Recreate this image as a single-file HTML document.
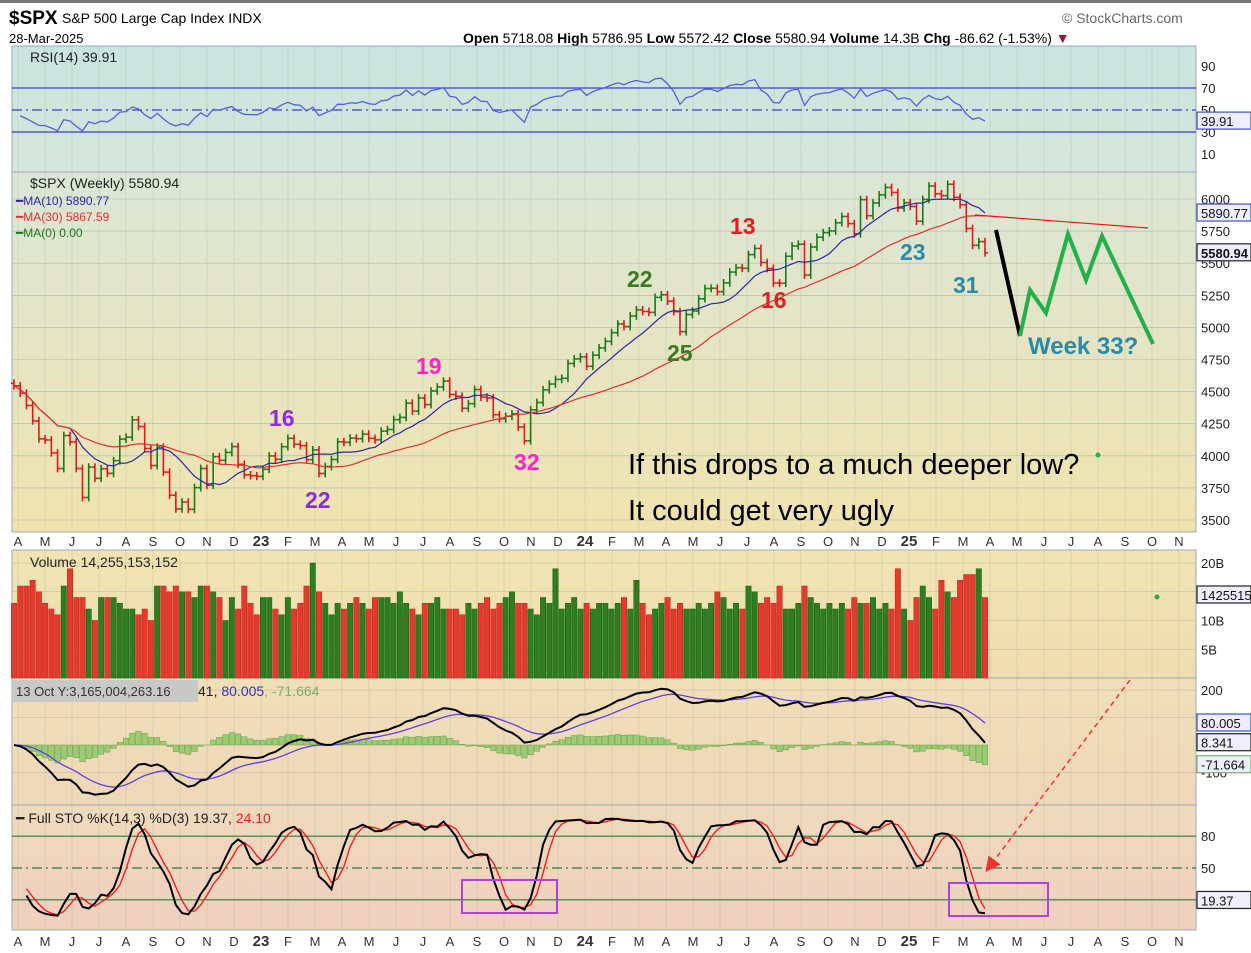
<!DOCTYPE html>
<html><head><meta charset="utf-8">
<style>
body{margin:0;background:#fff;font-family:"Liberation Sans",sans-serif;}
svg text{font-family:"Liberation Sans",sans-serif;}
</style></head><body>
<svg id="c" width="1251" height="948" xmlns="http://www.w3.org/2000/svg">
<defs>
<linearGradient id="gR" x1="0" y1="0" x2="0" y2="1"><stop offset="0" stop-color="#c9e4df"/><stop offset="1" stop-color="#d6e6dc"/></linearGradient>
<linearGradient id="gP" x1="0" y1="0" x2="0" y2="1"><stop offset="0" stop-color="#dbe6d6"/><stop offset="1" stop-color="#f1e3ae"/></linearGradient>
<linearGradient id="gV" x1="0" y1="0" x2="0" y2="1"><stop offset="0" stop-color="#f1e4b2"/><stop offset="1" stop-color="#efdcb0"/></linearGradient>
<linearGradient id="gM" x1="0" y1="0" x2="0" y2="1"><stop offset="0" stop-color="#f0dfb8"/><stop offset="1" stop-color="#efd7b8"/></linearGradient>
<linearGradient id="gS" x1="0" y1="0" x2="0" y2="1"><stop offset="0" stop-color="#efdabb"/><stop offset="1" stop-color="#f0cfbf"/></linearGradient>
<marker id="arr" markerWidth="10" markerHeight="10" refX="5" refY="5" orient="auto"><path d="M0,0 L10,5 L0,10 z" fill="#f03030"/></marker>
</defs>
<rect x="0" y="0" width="1251" height="3" fill="#777"/>
<text x="9" y="24" font-size="19" font-weight="bold">$SPX</text>
<text x="62" y="23" font-size="14">S&amp;P 500 Large Cap Index  INDX</text>
<text x="9" y="43" font-size="13">28-Mar-2025</text>
<text x="463" y="43" font-size="14"><tspan font-weight="bold">Open</tspan> 5718.08 <tspan font-weight="bold">High</tspan> 5786.95 <tspan font-weight="bold">Low</tspan> 5572.42 <tspan font-weight="bold">Close</tspan> 5580.94 <tspan font-weight="bold">Volume</tspan> 14.3B <tspan font-weight="bold">Chg</tspan> -86.62 (-1.53%) <tspan fill="#a01030">▼</tspan></text>
<text x="1062" y="23" font-size="14" fill="#666">© StockCharts.com</text>

<rect x="12" y="46" width="1184" height="126" fill="url(#gR)" stroke="#9ab" />
<rect x="12" y="172" width="1184" height="360" fill="url(#gP)" stroke="#9ab"/>
<rect x="12" y="550" width="1184" height="128" fill="url(#gV)" stroke="#9ab"/>
<rect x="12" y="678" width="1184" height="127" fill="url(#gM)" stroke="#9ab"/>
<rect x="12" y="805" width="1184" height="125" fill="url(#gS)" stroke="#9ab"/>
<g id="grid"></g>
<g id="marks"></g>
<g id="axes"></g>

<g font-weight="bold" font-size="23">
<text x="269" y="426" fill="#8a2be2">16</text>
<text x="305" y="508" fill="#8a2be2">22</text>
<text x="416" y="374" fill="#ff20c8">19</text>
<text x="514" y="470" fill="#ff20c8">32</text>
<text x="627" y="287" fill="#3a7a20">22</text>
<text x="667" y="361" fill="#3a7a20">25</text>
<text x="730" y="234" fill="#e02020">13</text>
<text x="761" y="308" fill="#e02020">16</text>
<text x="900" y="260" fill="#2a8aaa">23</text>
<text x="953" y="293" fill="#2a8aaa">31</text>
<text x="1028" y="354" fill="#2a8aaa" font-size="24">Week 33?</text>
</g>
<line x1="975" y1="215" x2="1148" y2="228" stroke="#f01010" stroke-width="1.2"/>
<line x1="996" y1="230" x2="1020" y2="336" stroke="#000" stroke-width="4"/>
<polyline points="1020,336 1030,290 1046,313 1068,234 1086,280 1102,236 1153,344" fill="none" stroke="#22b04a" stroke-width="4"/>
<text x="628" y="474" font-size="29">If this drops to a much deeper low?</text>
<text x="628" y="520" font-size="29">It could get very ugly</text>
<circle cx="1098" cy="455" r="2.5" fill="#22b04a"/>
<circle cx="1157" cy="597" r="2.5" fill="#22b04a"/>
<line x1="1130" y1="680" x2="990" y2="866" stroke="#f03030" stroke-width="1.5" stroke-dasharray="5,4" marker-end="url(#arr)"/>
<rect x="462" y="880" width="95" height="33" fill="none" stroke="#b040e0" stroke-width="2"/>
<rect x="949" y="883" width="99" height="33" fill="none" stroke="#b040e0" stroke-width="2"/>
</svg>
<script>
const closes=[4545,4488,4392,4272,4132,4123,4023,3901,4158,4109,3901,3675,3912,3825,3899,3863,3962,4130,4145,4280,4228,4057,3924,4067,3873,3693,3586,3640,3583,3752,3901,3771,3993,3965,4026,4072,3934,3852,3845,3840,
3895,3999,3973,4071,4136,4090,4079,3970,4046,3862,3917,3971,4109,4105,4138,4133,4169,4136,4124,4192,4205,4282,4299,4410,4348,4450,4399,4505,4536,4582,4478,4464,4370,4406,4516,4457,4450,4320,4288,4308,4327,4224,4117,4358,4415,4514,4559,4595,4604,4719,4755,4770,
4697,4784,4840,4891,4959,5027,5006,5089,5137,5124,5117,5234,5254,5204,5123,4967,5100,5128,5223,5303,5305,5278,5347,5431,5465,5460,5567,5615,5505,5459,5346,5344,5554,5634,5648,5408,5626,5702,5738,5751,5815,5864,5808,5729,5995,5870,5969,6032,6090,6051,5930,5971,
5942,5827,5997,6101,6041,6026,6115,6013,5955,5770,5639,5668,5581];
const volumes=[14,11,13,16,16,17,15,13,12,11,16,19,14,14,12,10,14,14,14,13,12,12,11,12,10,16,16,15,16,15,15,14,16,16,15,14,10,14,12,16,
13,11,14,14,12,11,14,12,13,16,20,15,13,11,13,12,13,14,13,12,14,14,14,13,15,13,12,11,13,13,14,12,12,12,11,13,12,13,14,12,13,14,15,13,13,12,11,14,13,19,12,13,
14,12,13,12,13,13,12,13,14,12,17,13,11,12,13,14,12,13,12,12,13,12,13,15,14,12,13,12,16,15,13,14,13,16,12,12,13,16,14,13,12,13,12,13,12,14,13,13,14,12,13,12,19,12,
10,14,16,14,12,17,15,14,17,18,18,19,14];
const monthLabels=["A","M","J","J","A","S","O","N","D","23","F","M","A","M","J","J","A","S","O","N","D","24","F","M","A","M","J","J","A","S","O","N","D","25","F","M","A","M","J","J","A","S","O","N"];
const priceTicks=[3500,3750,4000,4250,4500,4750,5000,5250,5500,5750,6000];
const rsiTicks=[90,70,50,30,10];
const volTicks=[5,10,15,20];
const macdTicks=[200,100,-100];
const stoTicks=[80,50,20];

const NS="http://www.w3.org/2000/svg";
const n=closes.length;
const X=i=>14+i*(971/(n-1));
const MX=m=>18+m*27.0;
const yP=p=>199+(6000-p)*0.1284;
const yR=r=>165-r*1.1;
const yV=v=>678-v*5.75;
const yM=v=>745-v*0.275;
const yS=v=>921-v*1.06;
const bw=5.4;
function el(tag,attrs,parent){const e=document.createElementNS(NS,tag);for(const k in attrs)e.setAttribute(k,attrs[k]);parent.appendChild(e);return e;}
const grid=document.getElementById('grid'),marks=document.getElementById('marks'),axes=document.getElementById('axes');
const opens=closes.map((c,i)=>i?closes[i-1]:c+20);
const highs=closes.map((c,i)=>Math.max(c,opens[i])+30);
const lows=closes.map((c,i)=>Math.min(c,opens[i])-30);

monthLabels.forEach((m,k)=>{
  const x=MX(k);
  [[46,172],[172,532],[550,678],[678,805],[805,930]].forEach(([a,b])=>{
    const g=el('line',{x1:x,x2:x,y1:a,y2:b,stroke:'#a9b9a9','stroke-width':0.6,opacity:0.6},grid);
    
    
  });
  [546,946].forEach(yy=>{
    const t=el('text',{x:x,y:yy,'font-size':m.length>1?15:13,'font-weight':m.length>1?'bold':'normal','text-anchor':'middle',fill:'#333'},axes);
    t.textContent=m;
    
    
  });
});
function hline(y,color,dash,w,name){const l=el('line',{x1:12,x2:1196,y1:y,y2:y,stroke:color,'stroke-width':w||0.6},grid);if(dash)l.setAttribute('stroke-dasharray',dash);}
function tick(y,txt,name){const t=el('text',{x:1201,y:y+5,'font-size':13,fill:'#222'},axes);t.textContent=txt;}
priceTicks.forEach(p=>{hline(yP(p),'#a9b9a9',null,0.6,'price-gridline');tick(yP(p),p,'price-tick');});
rsiTicks.forEach(r=>{tick(yR(r),r,'rsi-tick');});
hline(yR(70),'#3c3cd0',null,1.3,'rsi-70-line');hline(yR(30),'#3c3cd0',null,1.3,'rsi-30-line');hline(yR(50),'#3c3cd0','10,4,2,4',1.3,'rsi-50-line');
volTicks.forEach(v=>{hline(yV(v),'#b9b9a0',null,0.6,'volume-gridline');tick(yV(v),v+'B','volume-tick');});
macdTicks.forEach(v=>{hline(yM(v),'#b9b0a0',null,0.6,'macd-gridline');tick(yM(v),v,'macd-tick');});
hline(yS(80),'#2a7a3a',null,1.2,'sto-80-line');hline(yS(20),'#2a7a3a',null,1.2,'sto-20-line');hline(yS(50),'#2a7a3a','10,4,2,4',1.2,'sto-50-line');
stoTicks.forEach(v=>tick(yS(v),v,'sto-tick'));

function sma(a,p){return a.map((_,i)=>{const s=Math.max(0,i-p+1);let t=0;for(let j=s;j<=i;j++)t+=a[j];return t/(i-s+1);});}
function ema(a,p){const k=2/(p+1);let e=a[0];return a.map(v=>e=v*k+e*(1-k));}
const ma10=sma(closes,10),ma30=sma(closes,30);
const rsi=[];let ag=0,al=0;
for(let i=0;i<n;i++){const d=i?closes[i]-closes[i-1]:0;const g=Math.max(d,0),l=Math.max(-d,0);
 if(i===0){ag=60;al=70;}else{ag=(ag*13+g)/14;al=(al*13+l)/14;}rsi.push(100-100/(1+ag/(al||1e-6)));}
const e12=ema(closes,12),e26=ema(closes,26);const macd=closes.map((_,i)=>e12[i]-e26[i]);const sig=ema(macd,9);const hist=macd.map((m,i)=>m-sig[i]);
const kraw=closes.map((c,i)=>{let hh=-1e9,ll=1e9;for(let j=Math.max(0,i-13);j<=i;j++){hh=Math.max(hh,highs[j]);ll=Math.min(ll,lows[j]);}return (c-ll)/(hh-ll)*100;});
const kF=sma(kraw,3),dF=sma(kF,3);

function poly(vals,yf,color,w,name,start){const pts=vals.map((v,i)=>i>=(start||0)?X(i).toFixed(1)+','+yf(v).toFixed(1):null).filter(Boolean).join(' ');const p=el('polyline',{points:pts,fill:'none',stroke:color,'stroke-width':w},marks);}
poly(rsi,yR,'#5060e0',1.3,'rsi-line',1);
closes.forEach((c,i)=>{const up=c>=opens[i];const col=up?'#1a7a1a':'#e01818';const x=X(i);
 const g=el('g',{stroke:col,'stroke-width':1.6},marks);
 
 
 el('line',{x1:x,x2:x,y1:yP(highs[i]),y2:yP(lows[i])},g);
 el('line',{x1:x-3,x2:x,y1:yP(opens[i]),y2:yP(opens[i])},g);
 el('line',{x1:x,x2:x+3,y1:yP(c),y2:yP(c)},g);
});
poly(ma10,yP,'#2a2aa0',1.2,'ma10-line');
poly(ma30,yP,'#e03030',1.2,'ma30-line');
// align volume array to the last n weeks
const vOff=Math.max(0,volumes.length-n);
for(let i=0;i<n;i++){const v=volumes[i+vOff];if(v===undefined)continue;const up=closes[i]>=opens[i];const r=el('rect',{x:X(i)-bw/2,y:yV(v),width:bw,height:678-yV(v),fill:up?'#2e7d20':'#e23b2b',stroke:up?'#1d5d12':'#c02020','stroke-width':0.5},marks);
 
 }
hist.forEach((h,i)=>{const y0=yM(0),y1=yM(h);const r=el('rect',{x:X(i)-bw/2,y:Math.min(y0,y1),width:bw,height:Math.abs(y1-y0),fill:'#9ccc70',stroke:'#6a9a50','stroke-width':0.5},marks);
 
 });
poly(sig,yM,'#6040e0',1.3,'macd-signal-line');
poly(macd,yM,'#000',2,'macd-line');
poly(dF,yS,'#f02020',1.4,'sto-d-line',2);
poly(kF,yS,'#000',2,'sto-k-line',2);

function label(x,y,txt,color,name,size){const t=el('text',{x:x,y:y,'font-size':size||13,fill:color},axes);t.textContent=txt;return t;}
label(30,62,'RSI(14) 39.91','#222','rsi-legend',14);
label(30,188,'$SPX (Weekly) 5580.94','#222','price-legend',14);
label(16,205,'━MA(10) 5890.77','#2a2aa0','ma10-legend',12);
label(16,221,'━MA(30) 5867.59','#e03030','ma30-legend',12);
label(16,237,'━MA(0) 0.00','#1a7a1a','ma0-legend',12);
label(30,567,'Volume 14,255,153,152','#222','volume-legend',14);
const tb=el('rect',{x:12,y:680,width:186,height:22,fill:'#c8c8c8'},axes);
label(16,696,'13 Oct Y:3,165,004,263.16','#333','tooltip-text',13);
const ml=label(198,696,'41, ','#222','macd-legend',14);
const t2=el('tspan',{fill:'#4030c0'},ml);t2.textContent='80.005';
const t3=el('tspan',{fill:'#7ab070'},ml);t3.textContent=', -71.664';
const sl=label(16,823,'━ Full STO %K(14,3) %D(3) 19.37, ','#222','sto-legend',14);
const t4=el('tspan',{fill:'#f02020'},sl);t4.textContent='24.10';
function badge(y,txt,name,bold,stroke){const r=el('rect',{x:1197,y:y-9,width:54,height:17,fill:'#eef',stroke:stroke||'#4050c0','stroke-width':1.2},axes);
 const t=label(1201,y+5,txt,'#111',name,13);if(bold)t.setAttribute('font-weight','bold');}
badge(yR(39.91),'39.91','rsi-value-badge');
badge(yP(5890.77),'5890.77','ma10-value-badge');
badge(yP(5580.94),'5580.94','close-value-badge',true,'#222');
badge(595,'14255151','volume-value-badge',false,'#222');
badge(yM(80),'80.005','macd-signal-badge');
badge(yM(8.341),'8.341','macd-value-badge',false,'#222');
badge(yM(-71.664),'-71.664','macd-hist-badge',false,'#7ab070');
badge(yS(19.37),'19.37','sto-value-badge',false,'#222');
</script>
</body></html>
